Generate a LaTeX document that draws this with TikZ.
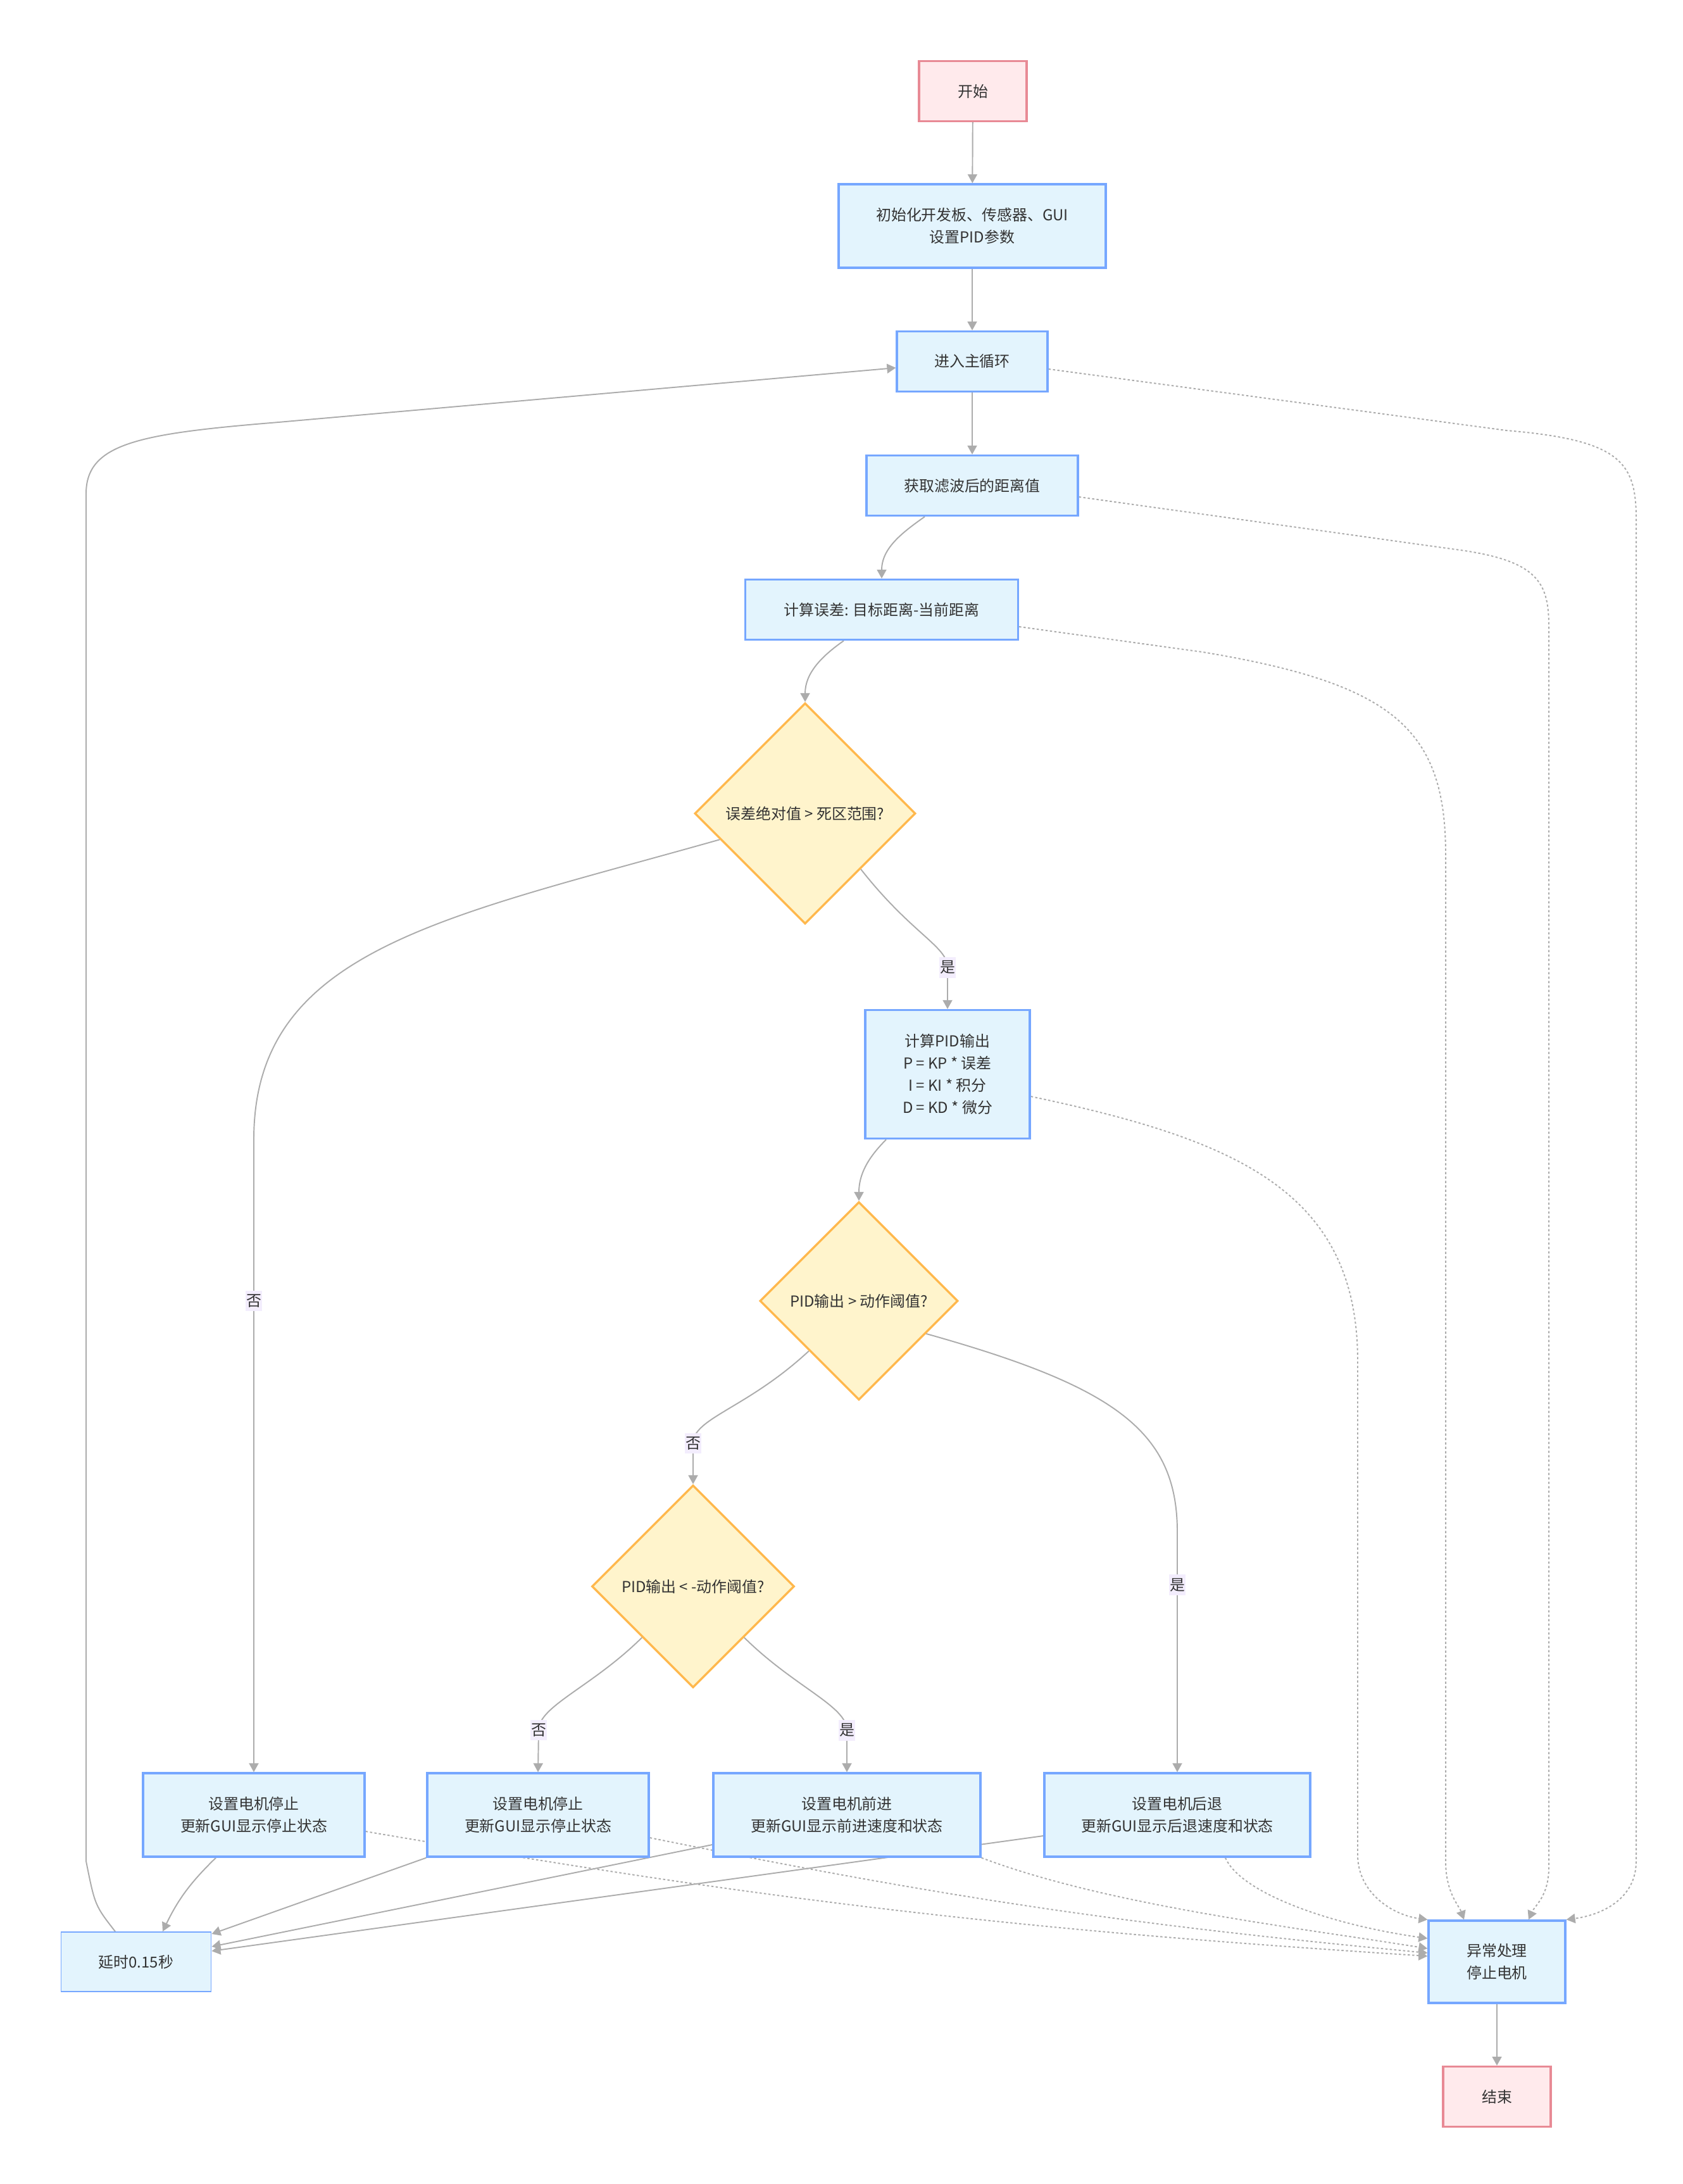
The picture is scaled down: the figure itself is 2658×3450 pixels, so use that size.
\documentclass[tikz,border=0pt]{standalone}
\usepackage{fontspec}
\setmainfont{Noto Sans CJK SC}
\usetikzlibrary{shapes.geometric,arrows.meta,backgrounds}
\definecolor{procfill}{RGB}{227,244,253}
\definecolor{procline}{RGB}{118,167,255}
\definecolor{termfill}{RGB}{255,234,236}
\definecolor{termline}{RGB}{232,138,149}
\definecolor{decfill}{RGB}{255,244,204}
\definecolor{decline}{RGB}{255,184,77}
\definecolor{edge}{RGB}{172,172,172}
\definecolor{lblfill}{RGB}{243,237,253}
\definecolor{ink}{RGB}{51,51,51}

\begin{document}
\begin{tikzpicture}[x=0.02cm,y=-0.02cm,>={Triangle[length=0.28cm,width=0.3cm]},
    every node/.style={font=\fontsize{13.6}{20}\selectfont,text=ink},
    proc/.style={draw=procline,fill=procfill,line width=1.9pt,inner sep=0pt,align=center},
    term/.style={draw=termline,fill=termfill,line width=1.9pt,inner sep=0pt,minimum width=3.4cm,minimum height=1.9cm},
    dec/.style={diamond,aspect=1,draw=decline,fill=decfill,line width=1.9pt,inner sep=0pt},
    flow/.style={->,draw=edge,line width=1.1pt},
    dflow/.style={flow,dash pattern=on 0.07cm off 0.07cm},
    lbl/.style={fill=lblfill,inner xsep=0.03cm,inner ysep=0.12cm}]
        \useasboundingbox (0,0) rectangle (2658,3450);

        \node[term] (start) at (1537,144) {开始};
        \node[proc,minimum width=8.44cm,minimum height=2.64cm] (init) at (1536,357) {初始化开发板、传感器、GUI\\设置PID参数};
        \node[proc,minimum width=4.76cm,minimum height=1.9cm] (loop) at (1536,571) {进入主循环};
        \node[proc,minimum width=6.68cm,minimum height=1.9cm] (filt) at (1536,767) {获取滤波后的距离值};
        \node[proc,minimum width=8.62cm,minimum height=1.9cm] (err) at (1393,963) {计算误差: 目标距离-当前距离};
        \node[dec,minimum width=6.98cm,minimum height=6.98cm] (dz) at (1272,1285) {误差绝对值 > 死区范围?};
        \node[proc,minimum width=5.2cm,minimum height=4.06cm] (pid) at (1497,1697) {计算PID输出\\P = KP * 误差\\I = KI * 积分\\D = KD * 微分};
        \node[dec,minimum width=6.26cm,minimum height=6.26cm] (thr) at (1357,2055) {PID输出 > 动作阈值?};
        \node[dec,minimum width=6.4cm,minimum height=6.4cm] (nthr) at (1095,2506) {PID输出 < -动作阈值?};
        \node[proc,minimum width=7cm,minimum height=2.64cm] (stopA) at (401,2867) {设置电机停止\\更新GUI显示停止状态};
        \node[proc,minimum width=7cm,minimum height=2.64cm] (stopB) at (850,2867) {设置电机停止\\更新GUI显示停止状态};
        \node[proc,minimum width=8.44cm,minimum height=2.64cm] (fwd) at (1338,2867) {设置电机前进\\更新GUI显示前进速度和状态};
        \node[proc,minimum width=8.4cm,minimum height=2.64cm] (back) at (1860,2867) {设置电机后退\\更新GUI显示后退速度和状态};
        \node[proc,line width=1.1pt,minimum width=4.74cm,minimum height=1.88cm] (wait) at (215,3099) {延时0.15秒};
        \node[proc,minimum width=4.32cm,minimum height=2.6cm] (exc) at (2365,3099) {异常处理\\停止电机};
        \node[term] (fin) at (2365,3312) {结束};

        \begin{scope}[on background layer]
        \fill[white] (0,0) rectangle (2658,3450);
        \draw[flow] (start) -- (init);
        \draw[flow] (init) -- (loop);
        \draw[flow] (loop) -- (filt);
        \draw[flow] ([xshift=-1.5cm]filt.south) to[out=-145,in=90] (err.north);
        \draw[flow] ([xshift=-1.2cm]err.south) to[out=-145,in=90] (dz.north);
        \draw[flow] (dz.south east) .. controls (1440,1475) and (1497,1495) .. (1497,1528) node[lbl] {是} -- (pid.north);
        \draw[flow] (dz.197) .. controls (700,1450) and (401,1500) .. (401,1800) -- node[lbl,pos=0.255] {否} (stopA.north);
        \draw[flow] ([xshift=-1.94cm]pid.south) to[out=-135,in=90] (thr.north);
        \draw[flow] (thr.south west) .. controls (1180,2225) and (1095,2240) .. (1095,2280) node[lbl] {否} -- (nthr.north);
        \draw[flow] (thr.-26) .. controls (1760,2190) and (1860,2260) .. (1860,2420) -- node[lbl,pos=0.22] {是} (back.north);
        \draw[flow] (nthr.south west) .. controls (935,2665) and (851,2695) .. (851,2733) node[lbl] {否} -- (stopB.north);
        \draw[flow] (nthr.south east) .. controls (1255,2665) and (1338,2695) .. (1338,2733) node[lbl] {是} -- (fwd.north);

        \draw[flow] ([xshift=-1.2cm]stopA.south) to[bend right=10] ([xshift=0.84cm]wait.north);
        \draw[flow] (stopB.south west) -- ([yshift=0.88cm]wait.east);
        \draw[flow] ([yshift=-0.94cm]fwd.west) -- ([yshift=0.48cm]wait.east);
        \draw[flow] ([yshift=-0.66cm]back.west) -- ([yshift=0.34cm]wait.east);
        \draw[flow] ([xshift=-0.66cm]wait.north) .. controls (150,3010) .. (136,2940) -- (136,780)
            .. controls (136,700) and (220,685) .. (440,667) -- ([yshift=-0.2cm]loop.west);

        \draw[dflow] ([yshift=-0.24cm]loop.east) -- (2380,680) .. controls (2560,695) and (2585,730) .. (2585,820)
            -- (2585,2940) .. controls (2585,3000) and (2530,3025) .. (exc.north east);
        \draw[dflow] ([yshift=-0.36cm]filt.east) -- (2300,868) .. controls (2430,885) and (2447,920) .. (2447,990)
            -- (2447,2950) .. controls (2447,2995) and (2425,3010) .. ([xshift=1cm]exc.north);
        \draw[dflow] ([yshift=-0.54cm]err.east) -- (1900,1030) .. controls (2200,1080) and (2284,1150) .. (2284,1350)
            -- (2284,2940) .. controls (2284,2990) and (2305,3010) .. ([xshift=-1.04cm]exc.north);
        \draw[dflow] ([yshift=-0.7cm]pid.east) .. controls (1950,1800) and (2145,1880) .. (2145,2150)
            -- (2145,2930) .. controls (2145,2990) and (2200,3025) .. (exc.north west);
        \draw[dflow] ([yshift=-0.52cm]stopA.east) to[bend right=3] ([yshift=0.18cm]exc.west);
        \draw[dflow] ([yshift=-0.72cm]stopB.east) to[bend right=3] ([yshift=0.28cm]exc.west);
        \draw[dflow] (fwd.south east) .. controls (1750,3010) and (2050,3045) .. ([yshift=0.42cm]exc.west);
        \draw[dflow] ([xshift=1.52cm]back.south) .. controls (1960,2990) and (2100,3040) .. ([yshift=0.74cm]exc.west);

        \draw[flow] (exc) -- (fin);
        \end{scope}
\end{tikzpicture}
\end{document}
